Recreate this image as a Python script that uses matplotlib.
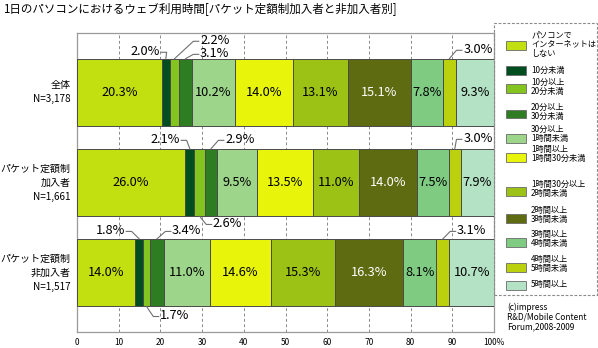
import matplotlib
matplotlib.use("Agg")
import matplotlib.pyplot as plt
from matplotlib.patches import Rectangle
import numpy as np

plt.rcParams['font.family'] = ['Noto Sans CJK JP', 'DejaVu Sans']

title = "1日のパソコンにおけるウェブ利用時間[パケット定額制加入者と非加入者別]"
groups = ["全体\nN=3,178", "パケット定額制\n加入者\nN=1,661", "パケット定額制\n非加入者\nN=1,517"]
categories = ["パソコンで\nインターネットは\nしない", "10分未満", "10分以上\n20分未満",
              "20分以上\n30分未満", "30分以上\n1時間未満", "1時間以上\n1時間30分未満",
              "1時間30分以上\n2時間未満", "2時間以上\n3時間未満", "3時間以上\n4時間未満",
              "4時間以上\n5時間未満", "5時間以上"]
total = [20.3, 2.0, 2.2, 3.1, 10.2, 14.0, 13.1, 15.1, 7.8, 3.0, 9.3]
subscribers = [26.0, 2.1, 2.6, 2.9, 9.5, 13.5, 11.0, 14.0, 7.5, 3.0, 7.9]
non_subscribers = [14.0, 1.8, 1.7, 3.4, 11.0, 14.6, 15.3, 16.3, 8.1, 3.1, 10.7]
xticks = [0, 10, 20, 30, 40, 50, 60, 70, 80, 90, 100]
xtick_labels = ["0", "10", "20", "30", "40", "50", "60", "70", "80", "90", "100%"]
credit = "(c)impress\nR&D/Mobile Content\nForum,2008-2009"

colors = ["#c2e00f", "#004d20", "#84c41e", "#2e7d22", "#9dd68a", "#e8f50a",
          "#9cc215", "#5f6b10", "#7fcb82", "#bcd10e", "#b3e2c4"]
text_colors = ["black"] * 7 + ["white"] + ["black"] * 3

rows = [total, subscribers, non_subscribers]

W, H = 598, 348
fig = plt.figure(figsize=(W / 100, H / 100), dpi=100)
fig.patch.set_facecolor("white")

def fx(px):
    return px / W

def fy(py):
    return 1 - py / H

ax = fig.add_axes([fx(77), fy(332), fx(494) - fx(77), fy(33) - fy(332)])
bar_h = 0.75

# stacked horizontal bars
for r, vals in enumerate(rows):
    vals = np.array(vals)
    lefts = np.concatenate([[0], np.cumsum(vals)[:-1]])
    ax.barh([r] * len(vals), vals, left=lefts, height=bar_h, color=colors,
            edgecolor="#4a4a4a", linewidth=0.7, zorder=3)
    for i, (v, l) in enumerate(zip(vals, lefts)):
        if v >= 5:
            ax.text(l + v / 2, r, f"{v:.1f}%", ha="center", va="center",
                    fontsize=9.2, color=text_colors[i], zorder=5)

# labels for the narrow segments, placed outside the bars with leader lines
# (row, segment, text x, text y, alignment)
outside = [
    (0, 1, 19.9, -0.456, "right"),
    (0, 2, 29.5, -0.578, "left"),
    (0, 3, 29.5, -0.433, "left"),
    (0, 9, 92.6, -0.478, "left"),
    (1, 1, 24.7, 0.522, "right"),
    (1, 3, 35.5, 0.522, "left"),
    (1, 2, 32.6, 1.456, "left"),
    (1, 9, 92.6, 0.511, "left"),
    (2, 1, 11.5, 1.533, "right"),
    (2, 3, 22.8, 1.533, "left"),
    (2, 2, 19.9, 2.478, "left"),
    (2, 9, 91.1, 1.533, "left"),
]
for r, s, tx, ty, ha in outside:
    vals = np.array(rows[r])
    left = vals[:s].sum()
    cx = left + vals[s] / 2
    edge = r - bar_h / 2 if ty < r else r + bar_h / 2
    ax.text(tx, ty, f"{vals[s]:.1f}%", ha=ha, va="center", fontsize=9.2,
            color="black", zorder=6)
    sgn = 1 if ha == "right" else -1
    x0 = tx + sgn * 0.3
    x1 = x0 + sgn * 1.3
    ax.plot([x0, x1, cx], [ty + 0.01, ty + 0.01, edge], color="#707070",
            lw=0.8, zorder=6, clip_on=False)

ax.set_xlim(0, 100)
ax.set_ylim(2.66, -0.66)
ax.set_xticks(xticks)
ax.set_xticklabels(xtick_labels, fontsize=6)
ax.tick_params(axis="x", length=0, pad=4)
ax.set_yticks(range(len(groups)))
ax.set_yticklabels(groups, fontsize=7.2, linespacing=1.5)
for lbl in ax.get_yticklabels():
    lbl.set_verticalalignment("center")
ax.tick_params(axis="y", length=0, pad=4.5)
ax.xaxis.grid(True, linestyle=(0, (3, 2.5)), color="#8a8a8a", lw=0.7, zorder=0)
ax.set_axisbelow(True)
for sp in ax.spines.values():
    sp.set_color("#9a9a9a")
    sp.set_linewidth(0.9)

fig.text(fx(3), fy(10), title, ha="left", va="center", fontsize=8.3)

# legend drawn in figure space
fig.add_artist(Rectangle((fx(494), fy(295)), fx(597) - fx(494), fy(23) - fy(295),
                         transform=fig.transFigure, fill=False, edgecolor="#8a8a8a",
                         linestyle=(0, (2.5, 1.5)), linewidth=0.8))
text_y = [44, 70, 87, 112, 134, 154, 189, 215, 239, 264, 285]
swatch_y = [45, 70, 88, 114, 138, 157, 191, 218, 242, 267, 285]
for lab, c, ty, sy in zip(categories, colors, text_y, swatch_y):
    fig.add_artist(Rectangle((fx(506), fy(sy + 4.5)), fx(526) - fx(506), fy(sy - 4.5) - fy(sy + 4.5),
                             transform=fig.transFigure, facecolor=c, edgecolor="#6a6a6a",
                             linewidth=0.6))
    fig.text(fx(531), fy(ty), lab, ha="left", va="center", fontsize=5.9, linespacing=1.05)

fig.text(fx(507), fy(317), credit, ha="left", va="center", fontsize=6, linespacing=1.15)

fig.savefig("out.png", dpi=100)
